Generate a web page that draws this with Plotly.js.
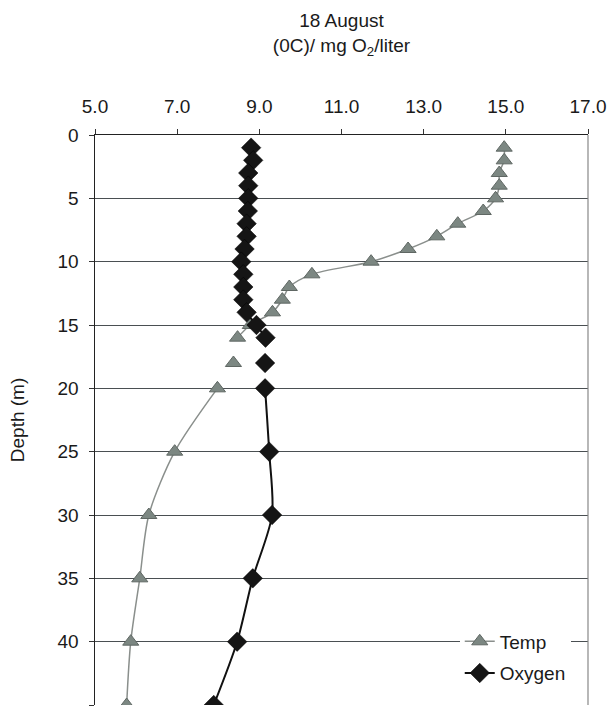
<!DOCTYPE html>
<html>
<head>
<meta charset="utf-8">
<script src="https://cdn.plot.ly/plotly-3.0.1.min.js"></script>
<style>html,body{margin:0;padding:0;background:#fff;}#chart{width:615px;height:708px;}</style>
</head>
<body>
<div id="chart"></div>
<script>
// Depth (m); null values mark depths with no measurement (lines break there)
var depth = [1,2,3,4,5,6,7,8,9,10,11,12,13,14,15,16,17,18,19,20,25,30,35,40,45];
var temp = [14.96,14.96,14.84,14.84,14.75,14.45,13.83,13.32,12.62,11.72,10.28,9.73,9.56,9.32,8.78,8.47,null,8.37,null,7.98,6.94,6.31,6.09,5.87,5.77];
var oxygen = [8.80,8.85,8.73,8.73,8.73,8.72,8.69,8.69,8.64,8.56,8.61,8.61,8.61,8.69,8.93,9.15,null,9.14,null,9.14,9.24,9.31,8.84,8.46,7.89];
var xTicks = [5,7,9,11,13,15,17];
var yTicks = [0,5,10,15,20,25,30,35,40,45];

var font = "Liberation Sans, Arial, sans-serif";
var fs = 19;

var traces = [
  {
    x: temp, y: depth, name: "Temp", type: "scatter", mode: "lines+markers",
    connectgaps: false, legendgroup: "t",
    line: {color: "#8a8f8c", width: 1.5, shape: "spline", smoothing: 0.8},
    marker: {symbol: "triangle-up", size: 14, color: "#7c8782", line: {color: "#5f6763", width: 1}}
  },
  {
    x: oxygen, y: depth, name: "Oxygen", type: "scatter", mode: "lines+markers",
    connectgaps: false, legendgroup: "o",
    line: {color: "#111", width: 2, shape: "spline", smoothing: 0.8},
    marker: {symbol: "diamond", size: 15, color: "#151515", line: {color: "#000", width: 0.5}}
  }
];

var layout = {
  width: 615, height: 708,
  margin: {l: 95, r: 27, t: 135, b: 3},
  paper_bgcolor: "#fff", plot_bgcolor: "#fff",
  font: {family: font, size: fs, color: "#1a1a1a"},
  showlegend: true,
  title: {
    text: "18 August<br>(0C)/ mg O<sub>2</sub>/liter",
    font: {family: font, size: fs, color: "#1a1a1a"},
    x: 0.5, xanchor: "center", xref: "paper",
    y: 0.962, yanchor: "middle", yref: "container"
  },
  xaxis: {
    side: "top", range: [5, 17], tickvals: xTicks, tickformat: ".1f",
    ticks: "outside", ticklen: 5, tickcolor: "#333",
    ticklabelstandoff: 8,
    showgrid: false, zeroline: false,
    showline: true, linecolor: "#222", linewidth: 1.5, mirror: false,
    tickfont: {family: font, size: fs, color: "#1a1a1a"}
  },
  yaxis: {
    range: [45, 0], tickvals: yTicks,
    ticks: "outside", ticklen: 5, tickcolor: "#333",
    ticklabelstandoff: 6,
    showgrid: true, gridcolor: "#4a4f52", gridwidth: 1,
    zeroline: false,
    showline: true, linecolor: "#222", linewidth: 1.5,
    tickfont: {family: font, size: fs, color: "#1a1a1a"},
    title: {text: "Depth (m)", font: {family: font, size: fs, color: "#1a1a1a"}, standoff: 28}
  },
  legend: {
    x: 0.965, xanchor: "right", y: 0.022, yanchor: "bottom",
    bgcolor: "#fff", borderwidth: 0,
    font: {family: font, size: fs, color: "#1a1a1a"},
    tracegroupgap: 4
  },
  shapes: [
    {type: "line", xref: "paper", yref: "paper", x0: 1, x1: 1, y0: 0, y1: 1,
     line: {color: "#888", width: 1.2}}
  ]
};

Plotly.newPlot("chart", traces, layout, {displayModeBar: false, staticPlot: true});
</script>
</body>
</html>
